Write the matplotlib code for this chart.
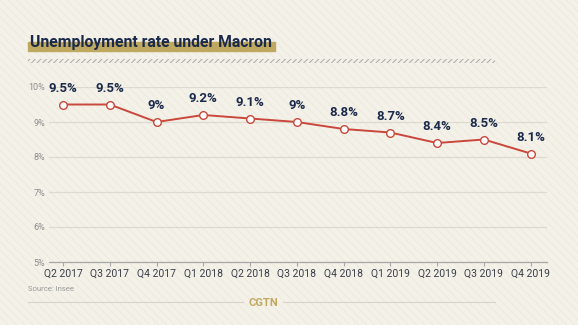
import matplotlib.pyplot as plt
from matplotlib.patches import Rectangle
from matplotlib.lines import Line2D

quarters = ['Q2 2017', 'Q3 2017', 'Q4 2017', 'Q1 2018', 'Q2 2018', 'Q3 2018',
            'Q4 2018', 'Q1 2019', 'Q2 2019', 'Q3 2019', 'Q4 2019']
rates = [9.5, 9.5, 9.0, 9.2, 9.1, 9.0, 8.8, 8.7, 8.4, 8.5, 8.1]
labels = ['9.5%', '9.5%', '9%', '9.2%', '9.1%', '9%', '8.8%', '8.7%', '8.4%', '8.5%', '8.1%']
yticks = [5, 6, 7, 8, 9, 10]

bg = '#f4f1e9'
navy = '#1b2a4a'
red = '#c9473b'
gold = '#bfa860'
W, H = 578, 325

plt.rcParams['font.family'] = ['Roboto', 'DejaVu Sans']
plt.rcParams['hatch.linewidth'] = 0.7
fig = plt.figure(figsize=(W / 100, H / 100), dpi=100, facecolor=bg)

# faint diagonal stripes over the background
stripes = Rectangle((0, 0), 1, 1, transform=fig.transFigure, facecolor='none',
                    edgecolor='#eeeadf', hatch='\\\\\\\\', lw=0, zorder=-10)
fig.patches.append(stripes)


def fx(px):
    return px / W


def fy(px):
    return 1 - px / H


# title with gold underline bar
fig.patches.append(Rectangle((fx(28), fy(51)), fx(275) - fx(28), 9 / H,
                             transform=fig.transFigure, color=gold, zorder=1))
fig.text(fx(30), fy(47), 'Unemployment rate under Macron', fontsize=11.3,
         fontweight='bold', color=navy, va='baseline', ha='left', zorder=2)

# hatched divider
fig.patches.append(Rectangle((fx(28), fy(63)), fx(495) - fx(28), 4 / H,
                             transform=fig.transFigure, facecolor='none',
                             edgecolor='#a9a9a9', hatch='//////', lw=0))

ax = fig.add_axes([fx(49), 1 - 262 / H, fx(547) - fx(49), 175 / H])
ax.set_facecolor('none')
x = range(len(quarters))
ax.plot(x, rates, color=red, lw=1.4, marker='o', ms=5.5, mfc='white',
        mec=red, mew=1.0, zorder=3)
for xi, r, lab in zip(x, rates, labels):
    ax.annotate(lab, (xi, r), xytext=(0, 7), textcoords='offset points',
                ha='center', va='bottom', fontsize=9.5, fontweight='bold',
                color=navy, annotation_clip=False)

ax.set_xlim(-0.3, 10.35)
ax.set_ylim(5, 10)
ax.set_yticks(yticks)
ax.set_yticklabels([f'{t}%' for t in yticks])
ax.set_xticks(list(x))
ax.set_xticklabels(quarters)
ax.grid(axis='y', color='#dedad0', lw=0.9)
ax.set_axisbelow(True)
for s in ['top', 'right', 'left']:
    ax.spines[s].set_visible(False)
ax.spines['bottom'].set_color('#a8a8a8')
ax.spines['bottom'].set_linewidth(0.9)
ax.tick_params(axis='y', length=0, colors='#8c8c8c', labelsize=6.5, pad=3)
ax.tick_params(axis='x', length=3, color='#a8a8a8', labelcolor='#3a3f4a',
               labelsize=7.5, pad=2)

fig.text(fx(28), fy(289), 'Source: Insee', fontsize=5.5, color='#999999',
         va='center', ha='left')
fig.text(fx(263), fy(303), 'CGTN', fontsize=8, fontweight='bold', color=gold,
         va='center', ha='center')
fig.lines.append(Line2D([fx(28), fx(243)], [fy(302), fy(302)],
                        transform=fig.transFigure, color='#d8d4ca', lw=0.8))
fig.lines.append(Line2D([fx(283), fx(495)], [fy(302), fy(302)],
                        transform=fig.transFigure, color='#d8d4ca', lw=0.8))

fig.savefig('out.png', dpi=100, facecolor=bg)
